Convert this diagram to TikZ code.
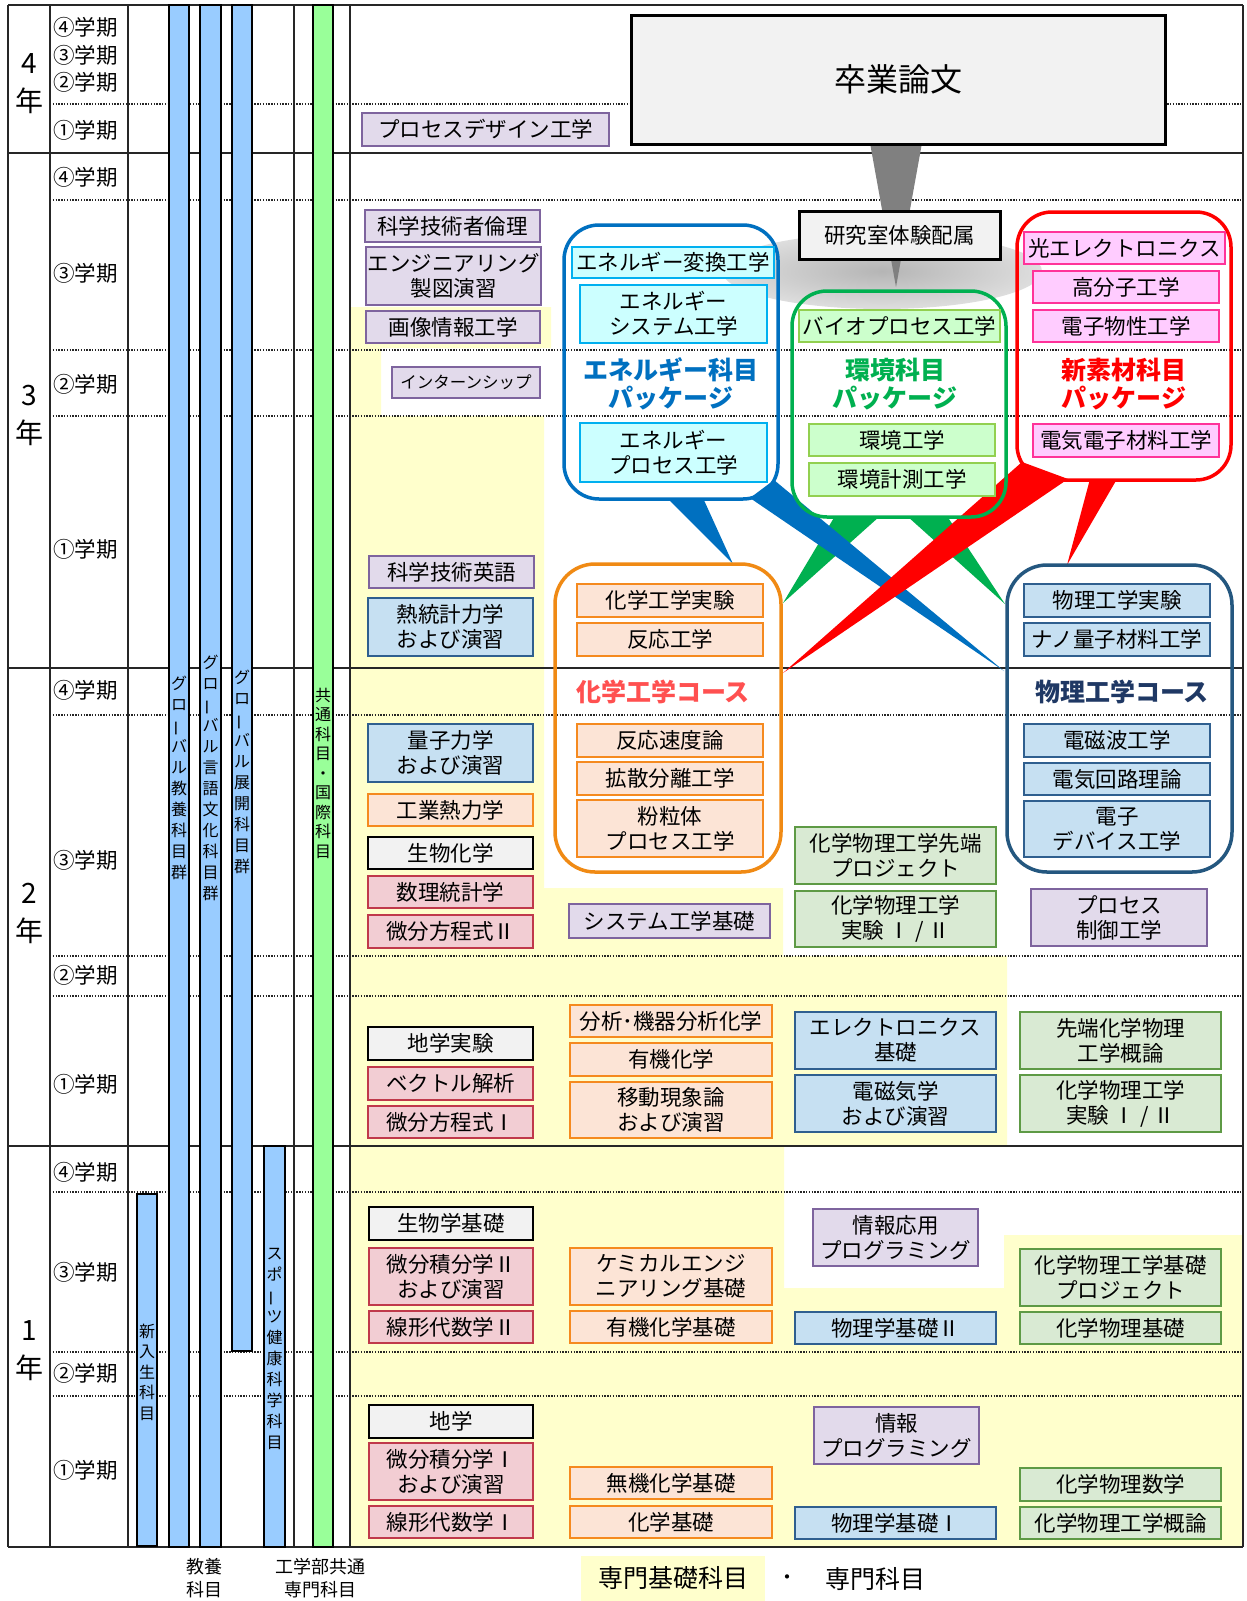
\documentclass[tikz,border=0pt]{standalone}
\usepackage{fontspec}
\setmainfont{Noto Sans CJK JP}
\usetikzlibrary{calc}
\definecolor{purF}{HTML}{E2DAEB}\definecolor{purD}{HTML}{7E649E}
\definecolor{bluF}{HTML}{C6E0F2}\definecolor{bluD}{HTML}{2F5F8F}
\definecolor{orgF}{HTML}{FCE4D6}\definecolor{orgD}{HTML}{F58A1F}
\definecolor{redF}{HTML}{F2CDD3}\definecolor{redD}{HTML}{C0394B}
\definecolor{gryF}{HTML}{F2F2F2}
\definecolor{grnF}{HTML}{D9EAD3}\definecolor{grnD}{HTML}{5E9A45}
\definecolor{cyaF}{HTML}{CCFFFF}\definecolor{cyaD}{HTML}{00B0F0}
\definecolor{pnkF}{HTML}{FFCCFF}\definecolor{pnkD}{HTML}{FF3399}
\definecolor{lgrF}{HTML}{CCFFCC}\definecolor{lgrD}{HTML}{92D050}
\definecolor{yel}{HTML}{FFFFCC}
\definecolor{barB}{HTML}{99CCFF}\definecolor{barG}{HTML}{99FF99}
\definecolor{pkgB}{HTML}{0070C0}\definecolor{pkgG}{HTML}{00B050}\definecolor{pkgR}{HTML}{FF0000}
\definecolor{crsO}{HTML}{F08A14}\definecolor{crsP}{HTML}{24577F}
\definecolor{labC}{HTML}{FF5050}\definecolor{labP}{HTML}{1F3864}
\definecolor{lineC}{HTML}{262626}
\newcommand\fs[2]{\fontsize{#1}{#2}\selectfont}
\newcommand\vbar{\rotatebox[origin=c]{90}{ー}}
\newcommand\bx[7]{\node[#1, minimum width={#5-#3}, minimum height={#6-#4}] (#2) at ({(#3+#5)/2},{(#4+#6)/2}) {#7};}
\tikzset{
  bb/.style={draw, line width=1.8pt, inner sep=0pt, align=center, font=\fs{21.5}{25}, text=black},
  purp/.style={bb, fill=purF, draw=purD},
  blu/.style={bb, fill=bluF, draw=bluD},
  org/.style={bb, fill=orgF, draw=orgD},
  rd/.style={bb, fill=redF, draw=redD},
  gry/.style={bb, fill=gryF, draw=black},
  grn/.style={bb, fill=grnF, draw=grnD},
  cya/.style={bb, fill=cyaF, draw=cyaD},
  pnk/.style={bb, fill=pnkF, draw=pnkD},
  lgr/.style={bb, fill=lgrF, draw=lgrD},
  barb/.style={draw=black, line width=1.5pt, fill=barB, inner sep=0pt},
  barg/.style={draw=black, line width=1.5pt, fill=barG, inner sep=0pt},
  pkg/.style={draw, line width=3.5pt, rounded corners=35pt, inner sep=0pt},
  gl/.style={draw=lineC, line width=2pt},
  dl/.style={draw=lineC, line width=1.4pt, dash pattern=on 1.4pt off 1.4pt},
  sem/.style={font=\fs{21.5}{24}, anchor=west, inner sep=0pt},
  yr/.style={font=\fs{28}{38}, align=center, inner sep=0pt},
  vt/.style={font=\fs{16}{21}, align=center, inner sep=0pt},
  plab/.style={font=\bfseries\fs{25}{28}, align=center, inner sep=0pt},
}
\begin{document}
\begin{tikzpicture}[x=1pt, y=-1pt]
\useasboundingbox (0,0) rectangle (1247,1601);
\fill[white] (0,0) rectangle (1247,1601);
% yellow region
\fill[yel] (350,307) -- (551,307) -- (551,348) -- (381,348) -- (381,416) -- (544,416) -- (544,888) -- (783,888) -- (783,956) -- (1007,956) -- (1007,1146) -- (784,1146) -- (784,1288) -- (1004,1288) -- (1004,1235) -- (1243,1235) -- (1243,1546) -- (350,1546) -- cycle;
% grid
\foreach \y in {104,200,350,416,715,956,996,1192,1352,1396} \draw[dl] (50,\y) -- (1243,\y);
\foreach \y in {5,153,668,1146,1547} \draw[gl] (8,\y) -- (1243,\y);
\foreach \x in {8,50,128,294,350,1243} \draw[gl] (\x,5) -- (\x,1547);
% year labels
\node[yr] (y4) at (29,84) {4\\年};
\node[yr] (y3) at (29,415) {3\\年};
\node[yr] (y2) at (29,913) {2\\年};
\node[yr] (y1) at (29,1351) {1\\年};
% semester labels
\node[sem] (s44) at (53,27) {④学期};
\node[sem] (s43) at (53,55) {③学期};
\node[sem] (s42) at (53,82) {②学期};
\node[sem] (s41) at (53,130) {①学期};
\node[sem] (s34) at (53,177) {④学期};
\node[sem] (s33) at (53,273) {③学期};
\node[sem] (s32) at (53,384) {②学期};
\node[sem] (s31) at (53,549) {①学期};
\node[sem] (s24) at (53,690) {④学期};
\node[sem] (s23) at (53,860) {③学期};
\node[sem] (s22) at (53,975) {②学期};
\node[sem] (s21) at (53,1084) {①学期};
\node[sem] (s14) at (53,1172) {④学期};
\node[sem] (s13) at (53,1272) {③学期};
\node[sem] (s12) at (53,1373) {②学期};
\node[sem] (s11) at (53,1470) {①学期};
% bars
\bx{barb}{nbar}{137}{1194}{157}{1546}{}
\bx{barb}{gbar1}{169}{5}{189}{1547}{}
\bx{barb}{gbar2}{200}{5}{221}{1547}{}
\bx{barb}{gbar3}{232}{5}{252}{1351}{}
\bx{barb}{sbar}{264}{1146}{285}{1547}{}
\bx{barg}{kbar}{313}{5}{333}{1547}{}
\node[vt] (t1) at (179,778) {グ\\ロ\\\vbar\\バ\\ル\\教\\養\\科\\目\\群};
\node[vt] (t2) at (210.5,778) {グ\\ロ\\\vbar\\バ\\ル\\言\\語\\文\\化\\科\\目\\群};
\node[vt] (t3) at (242,772) {グ\\ロ\\\vbar\\バ\\ル\\展\\開\\科\\目\\群};
\node[vt, font=\fs{16}{19.5}] (t4) at (323,773) {共\\通\\科\\目\\・\\国\\際\\科\\目};
\node[vt, font=\fs{16}{20.5}] (t5) at (147,1372) {新\\入\\生\\科\\目};
\node[vt] (t6) at (274.5,1349) {ス\\ポ\\\vbar\\ツ\\健\\康\\科\\学\\科\\目};
% ellipse and funnel
\shade[inner color=gray!58, outer color=gray!26] (882,271) ellipse [x radius=160pt, y radius=38pt];
\fill[gray] (870,143) -- (922,143) -- (896,287) -- cycle;
% wedges
\fill[pkgG] (835,516) -- (880,516) -- (783,603) -- cycle;
\fill[pkgG] (907,516) -- (947,516) -- (1005,604) -- cycle;
\fill[pkgB] (667,498) -- (703,498) -- (733,564) -- cycle;
\fill[pkgB] (774,480) -- (750,498) -- (1004,671) -- cycle;
\fill[pkgR] (1022,462) -- (1068,479) -- (783,673) -- cycle;
\fill[pkgR] (1090,479) -- (1117,479) -- (1067,565) -- cycle;
% package / course frames
\bx{pkg, draw=pkgB}{eng}{564}{225}{778}{499}{}
\bx{pkg, draw=pkgG}{env}{792}{291}{1006}{517}{}
\bx{pkg, draw=pkgR}{mat}{1017}{212}{1231}{480}{}
\bx{pkg, draw=crsO, rounded corners=40pt}{chem}{555}{564}{781}{872}{}
\bx{pkg, draw=crsP, rounded corners=40pt}{phys}{1007}{565}{1232}{872}{}
% big boxes
\bx{gry, line width=3pt, font=\fs{32}{36}}{thesis}{631}{15}{1165}{144}{卒業論文}
\bx{gry, line width=3pt, font=\fs{21.5}{25}}{lab}{799}{211}{1000}{259}{研究室体験配属}
% purple
\bx{purp}{p1}{362}{113}{609}{146}{プロセスデザイン工学}
\bx{purp}{p2}{365}{210}{540}{242}{科学技術者倫理}
\bx{purp}{p3}{366}{247}{541}{305}{エンジニアリング\\製図演習}
\bx{purp}{p4}{366}{311}{540}{343}{画像情報工学}
\bx{purp, font=\fs{16.5}{20}}{p5}{392}{367}{540}{398}{インターンシップ}
\bx{purp}{p6}{369}{556}{534}{588}{科学技術英語}
\bx{purp}{p7}{569}{904}{770}{938}{システム工学基礎}
\bx{purp}{p8}{1031}{889}{1207}{946}{プロセス\\制御工学}
\bx{purp}{p9}{813}{1209}{978}{1266}{情報応用\\プログラミング}
\bx{purp}{p10}{814}{1407}{979}{1464}{情報\\プログラミング}
% gray
\bx{gry}{k3}{368}{837}{533}{869}{生物化学}
\bx{gry}{k4}{368}{1027}{533}{1060}{地学実験}
\bx{gry}{k5}{369}{1207}{533}{1240}{生物学基礎}
\bx{gry}{k6}{369}{1405}{533}{1438}{地学}
% cyan
\bx{cya}{c1}{572}{247}{774}{278}{エネルギー変換工学}
\bx{cya}{c2}{580}{285}{767}{343}{エネルギー\\システム工学}
\bx{cya}{c3}{580}{423}{767}{482}{エネルギー\\プロセス工学}
% pink
\bx{pnk}{m1}{1024}{232}{1225}{264}{光エレクトロニクス}
\bx{pnk}{m2}{1033}{271}{1219}{303}{高分子工学}
\bx{pnk}{m3}{1033}{310}{1219}{342}{電子物性工学}
\bx{pnk}{m4}{1033}{424}{1219}{457}{電気電子材料工学}
% light green
\bx{lgr}{e1}{799}{310}{1000}{342}{バイオプロセス工学}
\bx{lgr}{e2}{809}{424}{995}{456}{環境工学}
\bx{lgr}{e3}{809}{463}{995}{496}{環境計測工学}
% orange
\bx{org}{o1}{577}{584}{763}{617}{化学工学実験}
\bx{org}{o2}{577}{623}{763}{656}{反応工学}
\bx{org}{o3}{577}{724}{763}{757}{反応速度論}
\bx{org}{o4}{577}{762}{763}{795}{拡散分離工学}
\bx{org}{o5}{577}{800}{763}{857}{粉粒体\\プロセス工学}
\bx{org}{o6}{368}{794}{533}{826}{工業熱力学}
\bx{org}{o7}{570}{1005}{772}{1037}{分析･機器分析化学}
\bx{org}{o8}{570}{1043}{772}{1076}{有機化学}
\bx{org}{o9}{570}{1082}{772}{1138}{移動現象論\\および演習}
\bx{org}{o10}{570}{1248}{772}{1305}{ケミカルエンジ\\ニアリング基礎}
\bx{org}{o11}{570}{1311}{772}{1343}{有機化学基礎}
\bx{org}{o12}{570}{1467}{772}{1499}{無機化学基礎}
\bx{org}{o13}{570}{1506}{772}{1538}{化学基礎}
% blue
\bx{blu}{u1}{368}{598}{533}{656}{熱統計力学\\および演習}
\bx{blu}{u2}{368}{724}{533}{782}{量子力学\\および演習}
\bx{blu}{u3}{1024}{584}{1210}{617}{物理工学実験}
\bx{blu}{u4}{1024}{623}{1210}{656}{ナノ量子材料工学}
\bx{blu}{u5}{1024}{724}{1210}{757}{電磁波工学}
\bx{blu}{u6}{1024}{763}{1210}{795}{電気回路理論}
\bx{blu}{u7}{1024}{801}{1210}{857}{電子\\デバイス工学}
\bx{blu}{u8}{795}{1012}{996}{1069}{エレクトロニクス\\基礎}
\bx{blu}{u9}{795}{1075}{996}{1132}{電磁気学\\および演習}
\bx{blu}{u10}{795}{1312}{996}{1344}{物理学基礎Ⅱ}
\bx{blu}{u11}{795}{1507}{996}{1539}{物理学基礎Ⅰ}
% red
\bx{rd}{r1}{368}{876}{533}{908}{数理統計学}
\bx{rd}{r2}{368}{915}{533}{948}{微分方程式Ⅱ}
\bx{rd}{r3}{368}{1067}{533}{1100}{ベクトル解析}
\bx{rd}{r4}{368}{1106}{533}{1138}{微分方程式Ⅰ}
\bx{rd}{r5}{369}{1248}{533}{1305}{微分積分学Ⅱ\\および演習}
\bx{rd}{r6}{369}{1311}{533}{1343}{線形代数学Ⅱ}
\bx{rd}{r7}{369}{1443}{533}{1500}{微分積分学Ⅰ\\および演習}
\bx{rd}{r8}{369}{1506}{533}{1538}{線形代数学Ⅰ}
% green
\bx{grn}{g1}{795}{827}{996}{884}{化学物理工学先端\\プロジェクト}
\bx{grn}{g2}{795}{891}{996}{947}{化学物理工学\\実験 Ⅰ / Ⅱ}
\bx{grn}{g3}{1020}{1012}{1221}{1069}{先端化学物理\\工学概論}
\bx{grn}{g4}{1020}{1075}{1221}{1132}{化学物理工学\\実験 Ⅰ / Ⅱ}
\bx{grn}{g5}{1020}{1249}{1221}{1306}{化学物理工学基礎\\プロジェクト}
\bx{grn}{g6}{1020}{1312}{1221}{1344}{化学物理基礎}
\bx{grn}{g7}{1020}{1468}{1221}{1501}{化学物理数学}
\bx{grn}{g8}{1020}{1507}{1221}{1539}{化学物理工学概論}
% package / course labels
\node[plab, text=pkgB] (lenergy) at (671,384) {エネルギー科目\\パッケージ};
\node[plab, text=pkgG] (lenv) at (895,384) {環境科目\\パッケージ};
\node[plab, text=pkgR] (lmat) at (1124,384) {新素材科目\\パッケージ};
\node[plab, text=labC] (lchem) at (663,692) {化学工学コース};
\node[plab, text=labP] (lphys) at (1122,692) {物理工学コース};
% bottom labels and legend
\node[font=\fs{18}{23}, align=center, inner sep=0pt] (lk) at (204,1578) {教養\\科目};
\node[font=\fs{18}{23}, align=center, inner sep=0pt] (lc) at (320,1578) {工学部共通\\専門科目};
\bx{fill=yel, inner sep=0pt, font=\fs{25}{30}}{leg1}{581}{1556}{765}{1601}{専門基礎科目}
\node[font=\fs{20}{24}, inner sep=0pt] (dot) at (787,1580) {・};
\node[font=\fs{25}{30}, inner sep=0pt] (leg2) at (875,1579) {専門科目};
\end{tikzpicture}
\end{document}
